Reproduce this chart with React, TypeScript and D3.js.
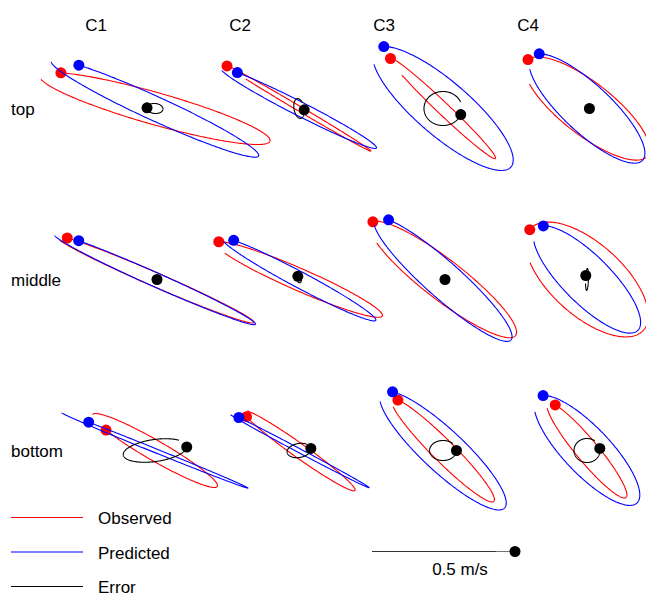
import React from 'react';
import * as d3 from 'd3';

const W = 646;
const H = 595;

const columns = ['C1', 'C2', 'C3', 'C4'];
const rows = ['top', 'middle', 'bottom'];

// tidal ellipses, row by row: top C1..C4, middle C1..C4, bottom C1..C4
// major / minor in m/s (minor < 0 means clockwise), inclination in deg (ccw from east), phase in deg
const obsMajor = [0.836, 0.585, 0.507, 0.538, 0.755, 0.636, 0.641, 0.531, 0.503, 0.481, 0.503, 0.427];
const obsMinor = [-0.112, -0.017, -0.042, -0.182, -0.049, -0.077, -0.14, -0.252, 0.07, 0.049, -0.077, -0.077];
const obsInc = [-15.8, -30.6, -43.6, -38, -23.5, -23.6, -37.7, -42, -30, -35.5, -45, -50.3];
const obsPhase = [213, 180, 180, 185, 206, 193, 188, 178, 223, 205, 200, 205];

const predMajor = [0.797, 0.608, 0.627, 0.531, 0.769, 0.608, 0.636, 0.503, 0.701, 0.554, 0.589, 0.507];
const predMinor = [-0.084, -0.049, -0.189, -0.168, -0.049, -0.056, -0.126, -0.168, -0.014, -0.014, -0.147, -0.164];
const predInc = [-24.6, -27, -40.7, -43, -24, -28, -41.6, -45, -22, -27.9, -43, -46.4];
const predPhase = [220, 215, 198, 198, 219, 209, 208, 197, 224, 210, 204, 195];

const errMajor = [0.056, 0.07, 0.133, 0.017, 0.014, 0.024, 0.014, 0.077, 0.224, 0.084, 0.094, 0.091];
const errMinor = [-0.035, -0.035, -0.119, -0.014, -0.01, -0.014, -0.01, -0.01, -0.077, -0.049, -0.07, -0.084];
const errInc = [-5, -80, 0, 0, 0, -70, 0, -92, 8, 10, 0, 0];
const errPhase = [180, 283, 21, 0, 0, 180, 0, 111, 5, 0, 0, 350];

// scale bar: a 0.5 m/s degenerate ellipse
const scaleMajor = 0.5;
const scaleLabel = '0.5 m/s';

const legendItems = ['Observed', 'Predicted', 'Error'];
const legendColors = ['#ff0000', '#0000ff', '#000000'];

const FONT = '"Liberation Sans", Arial, Helvetica, sans-serif';
const DRAWN = 0.88; // part of the period that is traced

const vel = d3.scaleLinear().domain([0, 0.5]).range([0, 71.5]);
const colX = d3.scaleLinear().domain([0, 3]).range([155, 587]);
const rowY = d3.scaleLinear().domain([0, 2]).range([108.5, 450.5]);

function ellipseSegment(major: number, minor: number, inc: number, phase: number, from: number, to: number) {
  const n = 120;
  const pts: [number, number][] = [];
  const t = (inc * Math.PI) / 180;
  for (let i = 0; i <= n; i++) {
    const e = ((phase + from + ((to - from) * i) / n) * Math.PI) / 180;
    const u0 = major * Math.cos(e);
    const v0 = minor * Math.sin(e);
    pts.push([u0 * Math.cos(t) - v0 * Math.sin(t), u0 * Math.sin(t) + v0 * Math.cos(t)]);
  }
  return pts;
}

function Ellipse({ cx, cy, major, minor, inc, phase, color, opacity = 1 }: any) {
  const line = d3
    .line<[number, number]>()
    .x((d) => cx + vel(d[0]))
    .y((d) => cy - vel(d[1]));
  // traced in two passes, so a flat ellipse shows where it is drawn twice
  const first = ellipseSegment(major, minor, inc, phase, 0, 180);
  const second = ellipseSegment(major, minor, inc, phase, 180, DRAWN * 360);
  const start = first[0];
  return (
    <g>
      <path d={line(first) || ''} fill="none" stroke={color} strokeWidth={1.1} strokeOpacity={opacity} />
      <path d={line(second) || ''} fill="none" stroke={color} strokeWidth={1.1} strokeOpacity={opacity} />
      <circle cx={cx + vel(start[0])} cy={cy - vel(start[1])} r={5.5} fill={color} />
    </g>
  );
}

export default function App() {
  const cells: React.ReactNode[] = [];
  rows.forEach((_, r) => {
    columns.forEach((_, c) => {
      const i = r * 4 + c;
      const cx = colX(c);
      const cy = rowY(r);
      cells.push(
        <g key={i}>
          <Ellipse cx={cx} cy={cy} major={obsMajor[i]} minor={obsMinor[i]} inc={obsInc[i]} phase={obsPhase[i]} color={legendColors[0]} />
          <Ellipse cx={cx} cy={cy} major={predMajor[i]} minor={predMinor[i]} inc={predInc[i]} phase={predPhase[i]} color={legendColors[1]} />
          <Ellipse cx={cx} cy={cy} major={errMajor[i]} minor={errMinor[i]} inc={errInc[i]} phase={errPhase[i]} color={legendColors[2]} />
        </g>
      );
    });
  });

  return (
    <svg width={W} height={H} style={{ position: 'absolute', left: 0, top: 0, background: '#fff' }} fontFamily={FONT}>
      {columns.map((c, i) => (
        <text key={c} x={colX(i) - 59} y={31} fontSize={17} textAnchor="middle">
          {c}
        </text>
      ))}
      {rows.map((r, i) => (
        <text key={r} x={11} y={rowY(i) + 6} fontSize={17}>
          {r}
        </text>
      ))}
      {cells}
      {legendItems.map((l, i) => (
        <g key={l}>
          <line x1={11} x2={83} y1={517.5 + i * 34.5} y2={517.5 + i * 34.5} stroke={legendColors[i]} strokeWidth={1.1} />
          <text x={98} y={524 + i * 34.5} fontSize={17}>
            {l}
          </text>
        </g>
      ))}
      <Ellipse cx={443.5} cy={551.5} major={scaleMajor} minor={0} inc={0} phase={0} color="#000" opacity={0.55} />
      <text x={460} y={575} fontSize={17} textAnchor="middle">
        {scaleLabel}
      </text>
    </svg>
  );
}
